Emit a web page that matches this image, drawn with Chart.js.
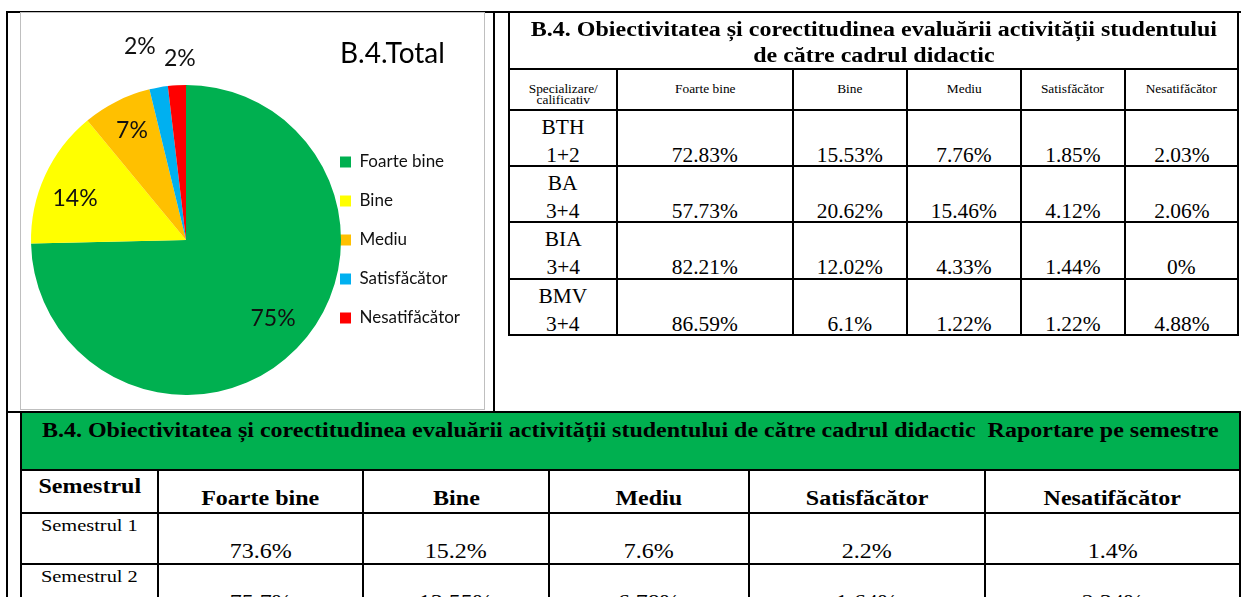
<!DOCTYPE html>
<html>
<head>
<meta charset="utf-8">
<script src="https://cdn.jsdelivr.net/npm/chart.js@4.4.1/dist/chart.umd.min.js"></script>
<style>
html, body { margin: 0; padding: 0; background: #fff; }
body { width: 1241px; height: 597px; overflow: hidden; position: relative; }
.line { position: absolute; background: #000; }
#chartBox { position: absolute; left: 20px; top: 12px; width: 465px; height: 398px; box-sizing: border-box; border: 1px solid #bfbfbf; }
#pie { position: absolute; left: 0; top: 0; }
#pieTitle { position: absolute; left: 319px; top: 22px; font-family: Lato; font-size: 28px; line-height: 34px; color: #000; white-space: nowrap; }
table { position: absolute; border-collapse: collapse; table-layout: fixed; font-family: 'Liberation Serif', serif; color: #000; }
td { border: 2px solid #000; padding: 0; text-align: center; white-space: nowrap; overflow: visible; }
.s { display: inline-block; white-space: nowrap; }
.c { height: 0; position: relative; overflow: visible; }
#spec { left: 508px; top: 11px; width: 731px; }
#spec .s { transform: scaleX(1.07); }
#spec .ttl .s { transform: scaleX(1.2); }
#spec .ttl { font-weight: bold; font-size: 20px; line-height: 26px; vertical-align: top; padding-top: 3px; }
#spec .hd { font-size: 12.5px; line-height: 11px; vertical-align: top; padding-top: 14px; }
#spec .lab { font-size: 20px; line-height: 28px; vertical-align: top; }
#spec .lab .c { top: 2px; }
#spec .val { font-size: 20px; line-height: 28px; vertical-align: top; }
#spec .val .c { top: 30px; }
#sem { left: 20px; top: 411px; width: 1219px; }
#sem .s { transform: scaleX(1.2); }
#sem .ttl { background: #00b050; font-weight: bold; font-size: 20px; line-height: 24px; vertical-align: top; padding-top: 5px; }
#sem .hd0 { font-weight: bold; font-size: 20px; line-height: 24px; vertical-align: top; padding-top: 3px; }
#sem .hd { font-weight: bold; font-size: 20px; line-height: 24px; vertical-align: top; padding-top: 15px; }
#sem .lab { font-size: 17px; line-height: 20px; vertical-align: top; padding-top: 2px; }
#sem .val { font-size: 20px; line-height: 24px; vertical-align: top; padding-top: 25px; }
</style>
</head>
<body>
<div class="line" style="left:6px;top:11px;width:2px;height:600px"></div>
<div class="line" style="left:6px;top:11px;width:1235px;height:2px"></div>
<div class="line" style="left:493px;top:11px;width:2px;height:401px"></div>
<div class="line" style="left:6px;top:411px;width:1233px;height:2px"></div>

<div id="chartBox">
  <canvas id="pie" width="463" height="396"></canvas>
  <div id="pieTitle">B.4.Total</div>
</div>

<table id="spec"></table>
<table id="sem"></table>

<script>
// pie: B.4 total
const categories = ['Foarte bine', 'Bine', 'Mediu', 'Satisfăcător', 'Nesatifăcător'];
const totalValues = [74.65, 14.38, 7.19, 1.92, 1.87];
const sliceColors = ['#00b050', '#ffff00', '#ffc000', '#00b0f0', '#ff0000'];

// table per specialization
const specTitle = ['B.4. Obiectivitatea și corectitudinea evaluării activității studentului', 'de către cadrul didactic'];
const specHeader = ['Specializare/', 'calificativ'];
const specNames = [['BTH', '1+2'], ['BA', '3+4'], ['BIA', '3+4'], ['BMV', '3+4']];
const bth = [72.83, 15.53, 7.76, 1.85, 2.03];
const ba = [57.73, 20.62, 15.46, 4.12, 2.06];
const bia = [82.21, 12.02, 4.33, 1.44, 0];
const bmv = [86.59, 6.1, 1.22, 1.22, 4.88];

// table per semester
const semTitle = 'B.4. Obiectivitatea și corectitudinea evaluării activității studentului de către cadrul didactic\u00a0 Raportare pe semestre';
const semNames = ['Semestrul 1', 'Semestrul 2'];
const sem1 = [73.6, 15.2, 7.6, 2.2, 1.4];
const sem2 = [75.7, 13.55, 6.78, 1.64, 2.34];

const specWidths = [108, 176, 114, 114, 104, 113];
const specHeights = [57, 41, 56, 56, 57, 56];
const semWidths = [137, 205, 186, 200, 236, 255];
const semHeights = [58, 43, 51, 51];

// slice label placement (fraction of radius, angle nudge in degrees)
const labelRadius = [0.756, 0.763, 0.787, 1.284, 1.171];
const labelNudge = [-2.3, -4.3, 0.3, -3.2, 1.4];

const pct = v => v + '%';
const span = t => '<span class="s">' + t + '</span>';
const box = t => '<div class="c">' + span(t) + '</div>';

function colgroup(widths) {
    return '<colgroup>' + widths.map(w => '<col style="width:' + w + 'px">').join('') + '</colgroup>';
}

function buildSpec() {
    const rows = [bth, ba, bia, bmv];
    let html = colgroup(specWidths);
    html += '<tr style="height:' + specHeights[0] + 'px"><td colspan="6" class="ttl">' + span(specTitle.join('<br>')) + '</td></tr>';
    html += '<tr style="height:' + specHeights[1] + 'px"><td class="hd">' + span(specHeader.join('<br>')) + '</td>';
    categories.forEach(c => { html += '<td class="hd">' + span(c) + '</td>'; });
    html += '</tr>';
    rows.forEach((r, i) => {
        html += '<tr style="height:' + specHeights[i + 2] + 'px"><td class="lab">' + box(specNames[i].join('<br>')) + '</td>';
        r.forEach(v => { html += '<td class="val">' + box(pct(v)) + '</td>'; });
        html += '</tr>';
    });
    document.getElementById('spec').innerHTML = html;
}

function buildSem() {
    const rows = [sem1, sem2];
    let html = colgroup(semWidths);
    html += '<tr style="height:' + semHeights[0] + 'px"><td colspan="6" class="ttl">' + span(semTitle) + '</td></tr>';
    html += '<tr style="height:' + semHeights[1] + 'px"><td class="hd0">' + span('Semestrul') + '</td>';
    categories.forEach(c => { html += '<td class="hd">' + span(c) + '</td>'; });
    html += '</tr>';
    rows.forEach((r, i) => {
        html += '<tr style="height:' + semHeights[i + 2] + 'px"><td class="lab">' + span(semNames[i]) + '</td>';
        r.forEach(v => { html += '<td class="val">' + span(pct(v)) + '</td>'; });
        html += '</tr>';
    });
    document.getElementById('sem').innerHTML = html;
}

// legend sits next to the pie, closer than its row padding would allow
const legendPlace = {
    id: 'legendPlace',
    beforeLayout(chart) {
        const legend = chart.legend;
        if (legend && !legend._patched) {
            const fit = legend.fit;
            legend.fit = function () { fit.call(this); this.width = 143; };
            legend._patched = true;
        }
    },
    afterLayout(chart) {
        chart.legend.left -= 23;
        chart.legend.right -= 23;
    }
};

const sliceLabels = {
    id: 'sliceLabels',
    afterDatasetsDraw(chart) {
        const ctx = chart.ctx;
        const data = chart.data.datasets[0].data;
        const total = data.reduce((a, b) => a + b, 0);
        ctx.save();
        ctx.font = '23px Lato';
        ctx.fillStyle = '#111';
        ctx.textAlign = 'center';
        ctx.textBaseline = 'middle';
        chart.getDatasetMeta(0).data.forEach((arc, i) => {
            const p = arc.getProps(['x', 'y', 'startAngle', 'endAngle', 'outerRadius'], true);
            const a = (p.startAngle + p.endAngle) / 2 + labelNudge[i] * Math.PI / 180;
            const r = p.outerRadius * labelRadius[i];
            ctx.fillText(Math.round(data[i] / total * 100) + '%', p.x + Math.cos(a) * r, p.y + Math.sin(a) * r);
        });
        ctx.restore();
    }
};

function pieChart() {
    new Chart(document.getElementById('pie'), {
        type: 'pie',
        data: {
            labels: categories,
            datasets: [{
                data: totalValues,
                backgroundColor: sliceColors,
                borderWidth: 0,
                hoverOffset: 0
            }]
        },
        options: {
            responsive: false,
            animation: false,
            layout: { padding: { left: 10, top: 72, bottom: 14, right: 0 } },
            plugins: {
                legend: {
                    position: 'right',
                    fullSize: false,
                    labels: {
                        boxWidth: 11,
                        boxHeight: 11,
                        padding: 22,
                        color: '#111',
                        font: { family: 'Lato', size: 17 }
                    }
                },
                tooltip: { enabled: false }
            }
        },
        plugins: [legendPlace, sliceLabels]
    });
}

buildSpec();
buildSem();
Promise.all([document.fonts.load('23px Lato'), document.fonts.load('17px Lato')])
    .catch(() => {})
    .then(pieChart);
</script>
</body>
</html>
